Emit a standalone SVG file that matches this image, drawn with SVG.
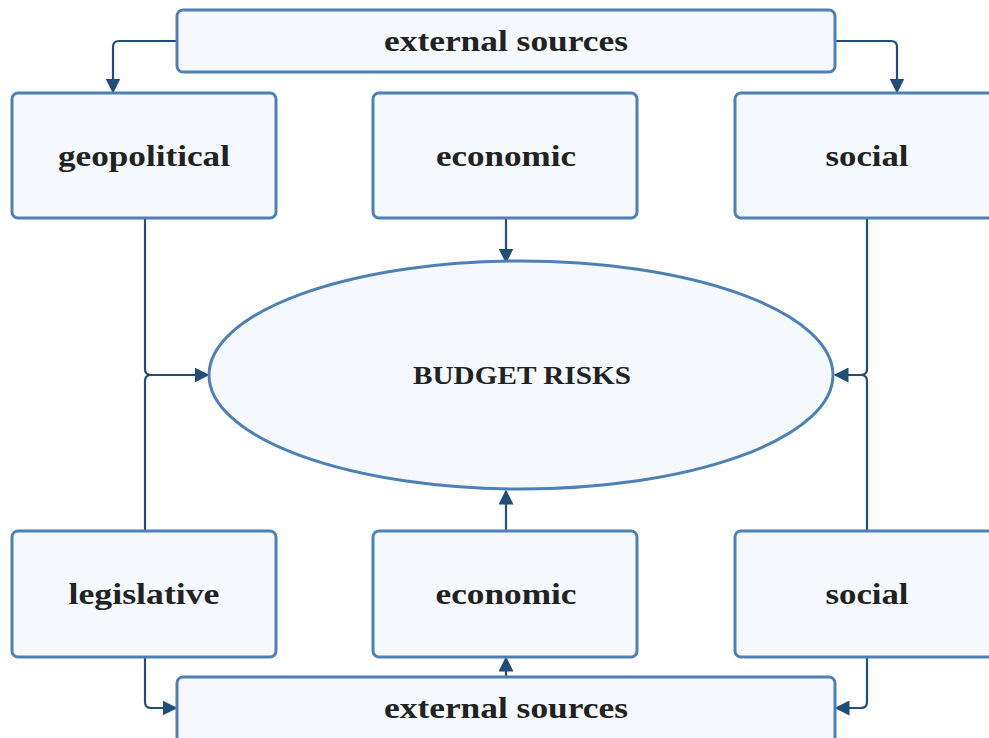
<svg xmlns="http://www.w3.org/2000/svg" width="989" height="738" viewBox="0 0 989 738">
<style>
.box{fill:#f5f9fe;stroke:#4d80b6;stroke-width:3}
.t{font-family:"Liberation Serif","DejaVu Serif",serif;font-weight:bold;font-size:30px;fill:#222;text-anchor:middle;dominant-baseline:central}
.c{fill:none;stroke:#1f4e79;stroke-width:2.2;marker-end:url(#ah)}
.n{fill:none;stroke:#1f4e79;stroke-width:2.2}
</style>
<defs>
<marker id="ah" viewBox="0 0 10 10" refX="9" refY="5" markerWidth="15" markerHeight="15" markerUnits="userSpaceOnUse" orient="auto">
<path d="M0,0 L10,5 L0,10 z" fill="#1f4e79"/>
</marker>
</defs>
<g id="connectors">
<path class="c" d="M177,41 H119 Q113,41 113,47 V92"/>
<path class="c" d="M835,41 H891 Q897,41 897,47 V92"/>
<path class="c" d="M506,218 V262"/>
<path class="c" d="M145,218 V369 Q145,375 151,375 H208"/>
<path class="n" d="M145,531 V381 Q145,375 151,375"/>
<path class="c" d="M867,218 V369 Q867,375 861,375 H835"/>
<path class="n" d="M867,531 V381 Q867,375 861,375"/>
<path class="c" d="M506,531 V491"/>
<path class="c" d="M506,677 V658"/>
<path class="c" d="M145,657 V702 Q145,708 151,708 H176"/>
<path class="c" d="M867,657 V702 Q867,708 861,708 H836"/>
</g>
<g id="ext-top"><rect class="box" x="177" y="10" width="658" height="62" rx="6"/><text class="t" x="506" y="40" textLength="244" lengthAdjust="spacingAndGlyphs">external sources</text></g>
<g id="geopolitical"><rect class="box" x="12" y="93" width="264" height="125" rx="6"/><text class="t" x="144" y="155" textLength="172" lengthAdjust="spacingAndGlyphs">geopolitical</text></g>
<g id="economic-top"><rect class="box" x="373" y="93" width="264" height="125" rx="6"/><text class="t" x="506" y="155" textLength="140" lengthAdjust="spacingAndGlyphs">economic</text></g>
<g id="social-top"><rect class="box" x="735" y="93" width="264" height="125" rx="6"/><text class="t" x="867" y="155" textLength="83" lengthAdjust="spacingAndGlyphs">social</text></g>
<g id="budget-risks"><ellipse class="box" cx="521" cy="375" rx="312" ry="114"/><text class="t" style="font-size:25px" x="522" y="375" textLength="218" lengthAdjust="spacingAndGlyphs">BUDGET RISKS</text></g>
<g id="legislative"><rect class="box" x="12" y="531" width="264" height="126" rx="6"/><text class="t" x="144" y="593" textLength="151" lengthAdjust="spacingAndGlyphs">legislative</text></g>
<g id="economic-bottom"><rect class="box" x="373" y="531" width="264" height="126" rx="6"/><text class="t" x="506" y="593" textLength="141" lengthAdjust="spacingAndGlyphs">economic</text></g>
<g id="social-bottom"><rect class="box" x="735" y="531" width="264" height="126" rx="6"/><text class="t" x="867" y="593" textLength="83" lengthAdjust="spacingAndGlyphs">social</text></g>
<g id="ext-bottom"><rect class="box" x="177" y="677" width="658" height="80" rx="6"/><text class="t" x="506" y="707" textLength="244" lengthAdjust="spacingAndGlyphs">external sources</text></g>
</svg>
